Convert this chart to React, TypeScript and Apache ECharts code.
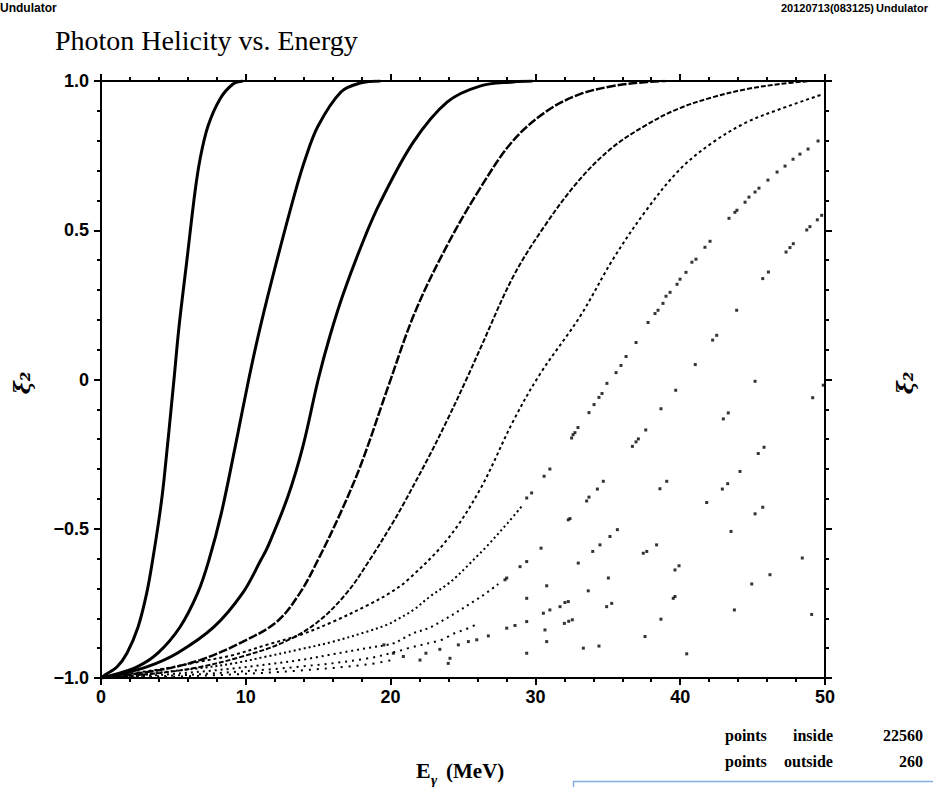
import React, { useEffect, useRef } from 'react';
import * as echarts from 'echarts';

// ---- axis ticks ----
const xTicks = [0, 10, 20, 30, 40, 50];
const xTickLabels = ['0', '10', '20', '30', '40', '50'];
const yTicks = [-1, -0.5, 0, 0.5, 1];
const yTickLabels = ['\u22121.0', '\u22120.5', '0', '0.5', '1.0'];

// ---- texts ----
const titleText = 'Photon Helicity vs. Energy';
const topLeftText = 'Undulator';
const topRightDate = '20120713(083125)';
const topRightName = 'Undulator';
const pointsInside = '22560';
const pointsOutside = '260';

// ---- harmonic curves (E in MeV, xi2) ----
const h1 = [[0,-1],[0.28,-0.99],[1.1,-0.963],[1.8,-0.916],[2.56,-0.829],[3.16,-0.715],[3.57,-0.604],[4.07,-0.446],[4.35,-0.336],[5.04,0],[5.39,0.178],[5.94,0.403],[6.49,0.628],[6.84,0.738],[7.39,0.849],[8.22,0.94],[9.12,0.99],[9.81,1.0]];
const h2 = [[0,-1],[0.83,-0.99],[2.49,-0.963],[3.94,-0.916],[5.46,-0.829],[6.68,-0.715],[7.46,-0.604],[8.32,-0.446],[9.27,-0.225],[10.2,0],[11.01,0.178],[12.17,0.403],[13.41,0.628],[14.1,0.738],[14.99,0.849],[16.57,0.963],[17.9,0.993],[19.3,1.0]];
const h3 = [[0,-1],[1.08,-0.99],[3.16,-0.963],[5.29,-0.916],[7.8,-0.829],[9.79,-0.715],[11.05,-0.604],[11.52,-0.56],[12.9,-0.393],[13.94,-0.225],[15.0,0],[15.8,0.144],[16.77,0.292],[18.16,0.47],[19.29,0.594],[21.57,0.795],[23.92,0.93],[26.17,0.983],[28.45,0.997],[29.8,1.0]];
const h4 = [[0,-1],[4.07,-0.973],[6.84,-0.94],[9.6,-0.883],[12.13,-0.812],[13.74,-0.715],[14.99,-0.604],[16.55,-0.446],[18.0,-0.279],[19.86,-0.02],[21.68,0.225],[23.87,0.446],[26.15,0.638],[28.44,0.799],[30.78,0.899],[33.08,0.956],[35.36,0.983],[37.7,0.997],[39,1.0]];
const h5 = [[0,-1],[4.07,-0.983],[6.84,-0.963],[9.6,-0.93],[12.48,-0.883],[14.9,-0.815],[16.97,-0.715],[18.56,-0.604],[20.15,-0.48],[20.79,-0.426],[22.65,-0.258],[23.93,-0.134],[25.23,0],[26.16,0.1],[28.48,0.346],[30.62,0.513],[32.9,0.661],[35.18,0.772],[37.53,0.849],[39.81,0.906],[42.27,0.946],[44.6,0.973],[46.9,0.99],[49,1.0]];
const h6 = [[0,-1],[2.23,-0.984],[4.54,-0.967],[6.84,-0.945],[9.14,-0.923],[11.44,-0.889],[13.74,-0.856],[16.04,-0.811],[18.46,-0.755],[19.95,-0.715],[21.2,-0.671],[23.9,-0.537],[26.17,-0.369],[28.45,-0.141],[30.3,0.017],[33.08,0.211],[35.36,0.403],[37.7,0.57],[40.0,0.705],[42.27,0.795],[44.6,0.862],[46.9,0.906],[49.86,0.956]];
const h7Low = [[0,-1],[2.2,-0.993],[4.54,-0.979],[6.84,-0.967],[9.14,-0.951],[11.44,-0.928],[13.74,-0.904],[16.04,-0.878],[18.35,-0.845],[19.73,-0.822],[20.42,-0.805],[21.57,-0.772],[22.72,-0.727],[23.87,-0.688],[24.56,-0.66],[25.26,-0.627],[25.95,-0.593],[26.64,-0.559],[28.08,-0.481],[29.05,-0.425]];
const h8Low = [[0,-1],[4.54,-0.988],[9.14,-0.968],[13.74,-0.94],[16.04,-0.92],[18.35,-0.9],[20.19,-0.884],[20.88,-0.867],[21.57,-0.85],[22.84,-0.828],[26.17,-0.73],[27.44,-0.685]];
const h9Low = [[0,-1],[4.54,-0.993],[9.14,-0.98],[13.74,-0.962],[18.35,-0.935],[20.84,-0.906],[21.22,-0.9],[23.53,-0.872],[23.98,-0.861],[24.1,-0.856],[25.37,-0.833],[25.83,-0.822]];
const h10Low = [[0,-1],[4.54,-0.996],[9.14,-0.988],[13.74,-0.975],[18.35,-0.955],[20.08,-0.94]];

// ---- sparse individual points ----
const h7Dots = [[29.4,-0.397],[29.74,-0.38],[30.6,-0.324],[31.0,-0.3],[32.5,-0.196],[32.6,-0.185],[32.73,-0.178],[32.94,-0.161],[33.7,-0.111],[34.05,-0.084],[34.39,-0.06],[34.6,-0.047],[34.94,-0.013],[35.57,0.023],[35.91,0.047],[36.26,0.077],[36.95,0.124],[37.78,0.191],[38.26,0.221],[38.47,0.232],[38.81,0.255],[39.02,0.279],[39.3,0.292],[39.78,0.319],[39.99,0.336],[40.4,0.359],[40.81,0.393],[41.09,0.403],[41.71,0.443],[42.06,0.463],[43.37,0.54],[43.78,0.56],[43.92,0.567],[44.48,0.594],[44.75,0.611],[45.17,0.628],[45.44,0.641],[46.06,0.668],[46.69,0.695],[47.24,0.715],[47.79,0.738],[48.27,0.755],[48.83,0.772],[49.52,0.799]];
const h8Dots = [[27.9,-0.671],[28.02,-0.665],[28.94,-0.627],[29.4,-0.61],[30.39,-0.565],[32.27,-0.47],[32.39,-0.466],[33.54,-0.407],[33.7,-0.394],[34.28,-0.367],[34.69,-0.341],[36.7,-0.224],[36.95,-0.209],[37.11,-0.199],[37.62,-0.169],[38.67,-0.098],[39.69,-0.036],[41.04,0.05],[42.24,0.132],[42.52,0.148],[43.9,0.232],[45.7,0.338],[46.09,0.36],[47.31,0.427],[47.58,0.442],[47.81,0.455],[48.74,0.501],[48.96,0.512],[49.47,0.535],[49.77,0.55]];
const otherDots = [[45.17,-0.006],[49.15,-0.061],[49.88,-0.019],[43.32,-0.112],[42.98,-0.132],[45.79,-0.227],[45.39,-0.248],[44.13,-0.308],[39.07,-0.341],[38.6,-0.366],[43.28,-0.349],[42.91,-0.367],[41.83,-0.412],[45.7,-0.428],[45.17,-0.45],[43.51,-0.509],[35.66,-0.503],[35.15,-0.526],[34.46,-0.554],[33.96,-0.576],[38.37,-0.554],[37.69,-0.576],[37.45,-0.582],[48.43,-0.598],[32.96,-0.615],[39.92,-0.624],[39.64,-0.638],[46.2,-0.654],[35.04,-0.665],[44.94,-0.685],[30.78,-0.691],[33.65,-0.708],[39.64,-0.727],[39.52,-0.733],[29.4,-0.733],[32.27,-0.744],[32.04,-0.747],[31.7,-0.761],[35.27,-0.75],[34.92,-0.761],[43.74,-0.772],[49.08,-0.787],[31.0,-0.772],[30.55,-0.783],[38.67,-0.803],[32.55,-0.805],[32.3,-0.81],[32.0,-0.817],[29.4,-0.811],[28.59,-0.824],[28.02,-0.833],[26.75,-0.859],[30.66,-0.839],[30.78,-0.878],[37.57,-0.861],[33.31,-0.9],[34.39,-0.893],[29.4,-0.917],[40.45,-0.919],[25.95,-0.872],[25.37,-0.878],[24.68,-0.889],[24.1,-0.934],[23.98,-0.951],[23.4,-0.904],[22.44,-0.917],[22.03,-0.94],[20.88,-0.928],[20.19,-0.917],[19.54,-0.889]];

const lineSeries = (data: number[][], width: number, type: any) => ({
  type: 'line',
  data,
  showSymbol: false,
  symbol: 'none',
  smooth: 0.35,
  clip: true,
  silent: true,
  lineStyle: { color: '#000', width, type, cap: 'butt' },
});

const dotSeries = (data: number[][]) => ({
  type: 'scatter',
  data,
  symbol: 'rect',
  symbolSize: 3,
  silent: true,
  itemStyle: { color: '#000' },
});

export default function App() {
  const ref = useRef<HTMLDivElement>(null);
  useEffect(() => {
    document.body.style.margin = '0';
    const chart = echarts.init(ref.current!, null, { renderer: 'svg' });
    const tickFont = { fontFamily: 'Liberation Sans', fontWeight: 'bold' as const, fontSize: 18, color: '#000' };
    const axisCommon = {
      axisLine: { show: true, onZero: false, lineStyle: { color: '#000', width: 2 } },
      axisTick: { show: true, inside: false, length: 7, lineStyle: { color: '#000', width: 2 } },
      minorTick: { show: true, splitNumber: 5, length: 4, lineStyle: { color: '#000', width: 2 } },
      splitLine: { show: false },
      minorSplitLine: { show: false },
    };
    const xFmt = (v: number) => { const i = xTicks.indexOf(v); return i >= 0 ? xTickLabels[i] : ''; };
    const yFmt = (v: number) => { const i = yTicks.findIndex((t) => Math.abs(t - v) < 1e-9); return i >= 0 ? yTickLabels[i] : ''; };
    const serif = 'Liberation Serif';
    chart.setOption({
      animation: false,
      backgroundColor: '#fff',
      grid: { left: 101, right: 108, top: 81, bottom: 109, containLabel: false },
      xAxis: [
        { type: 'value', min: 0, max: 50, interval: 10, position: 'bottom', ...axisCommon,
          axisLabel: { ...tickFont, margin: 10, formatter: xFmt } },
        { type: 'value', min: 0, max: 50, interval: 10, position: 'top', ...axisCommon,
          axisLabel: { show: false } },
      ],
      yAxis: [
        { type: 'value', min: -1, max: 1, interval: 0.5, position: 'left', ...axisCommon,
          axisLabel: { ...tickFont, margin: 12, formatter: yFmt } },
        { type: 'value', min: -1, max: 1, interval: 0.5, position: 'right', ...axisCommon,
          axisLabel: { show: false } },
      ],
      series: [
        lineSeries(h1, 3, 'solid'),
        lineSeries(h2, 3, 'solid'),
        lineSeries(h3, 3, 'solid'),
        lineSeries(h4, 2.5, [9, 2]),
        lineSeries(h5, 2, [5, 2]),
        lineSeries(h6, 2, [3, 3]),
        lineSeries(h7Low, 2, [2, 3]),
        lineSeries(h8Low, 2, [2, 4]),
        lineSeries(h9Low, 2, [2, 5]),
        lineSeries(h10Low, 2, [2, 6]),
        dotSeries(h7Dots),
        dotSeries(h8Dots),
        dotSeries(otherDots),
      ],
      graphic: [
        { type: 'text', left: 0, top: 2, style: { text: topLeftText, font: 'bold 12px "Liberation Sans"', fill: '#000' } },
        { type: 'text', left: 55, top: 26, style: { text: titleText, font: `28px "${serif}"`, fill: '#000' } },
        { type: 'text', left: 781, top: 2, style: { text: topRightDate, font: 'bold 11px "Liberation Sans"', fill: '#000' } },
        { type: 'text', left: 876, top: 2, style: { text: topRightName, font: 'bold 11px "Liberation Sans"', fill: '#000' } },
        { type: 'text', x: 22, y: 383, rotation: Math.PI / 2,
          style: { text: '\u03be\u2082', font: `italic bold 22px "DejaVu Serif"`, fill: '#000', textAlign: 'center', textVerticalAlign: 'middle', align: 'center', verticalAlign: 'middle' } },
        { type: 'text', x: 905, y: 383, rotation: Math.PI / 2,
          style: { text: '\u03be\u2082', font: `italic bold 22px "DejaVu Serif"`, fill: '#000', textAlign: 'center', textVerticalAlign: 'middle', align: 'center', verticalAlign: 'middle' } },
        { type: 'text', x: 416, y: 781, style: { text: 'E', font: `bold 22px "${serif}"`, fill: '#000', textVerticalAlign: 'bottom', verticalAlign: 'bottom' } },
        { type: 'text', x: 431, y: 787, style: { text: '\u03b3', font: `italic bold 15px "${serif}"`, fill: '#000', textVerticalAlign: 'bottom', verticalAlign: 'bottom' } },
        { type: 'text', x: 446, y: 781, style: { text: '(MeV)', font: `bold 21px "${serif}"`, fill: '#000', textVerticalAlign: 'bottom', verticalAlign: 'bottom' } },
        { type: 'text', x: 725, y: 735, style: { text: 'points', font: `bold 16px "${serif}"`, fill: '#000', textVerticalAlign: 'middle', verticalAlign: 'middle' } },
        { type: 'text', x: 793, y: 735, style: { text: 'inside', font: `bold 16px "${serif}"`, fill: '#000', textVerticalAlign: 'middle', verticalAlign: 'middle' } },
        { type: 'text', x: 923, y: 735, style: { text: pointsInside, font: `bold 16px "${serif}"`, fill: '#000', textAlign: 'right', align: 'right', textVerticalAlign: 'middle', verticalAlign: 'middle' } },
        { type: 'text', x: 725, y: 761, style: { text: 'points', font: `bold 16px "${serif}"`, fill: '#000', textVerticalAlign: 'middle', verticalAlign: 'middle' } },
        { type: 'text', x: 784, y: 761, style: { text: 'outside', font: `bold 16px "${serif}"`, fill: '#000', textVerticalAlign: 'middle', verticalAlign: 'middle' } },
        { type: 'text', x: 923, y: 761, style: { text: pointsOutside, font: `bold 16px "${serif}"`, fill: '#000', textAlign: 'right', align: 'right', textVerticalAlign: 'middle', verticalAlign: 'middle' } },
        { type: 'rect', shape: { x: 573.5, y: 781.5, width: 420, height: 40 }, style: { fill: 'none', stroke: '#7fb0e0', lineWidth: 1.5 } },
      ],
    });
    return () => chart.dispose();
  }, []);
  return <div ref={ref} style={{ position: 'fixed', left: 0, top: 0, width: 933, height: 787 }} />;
}
